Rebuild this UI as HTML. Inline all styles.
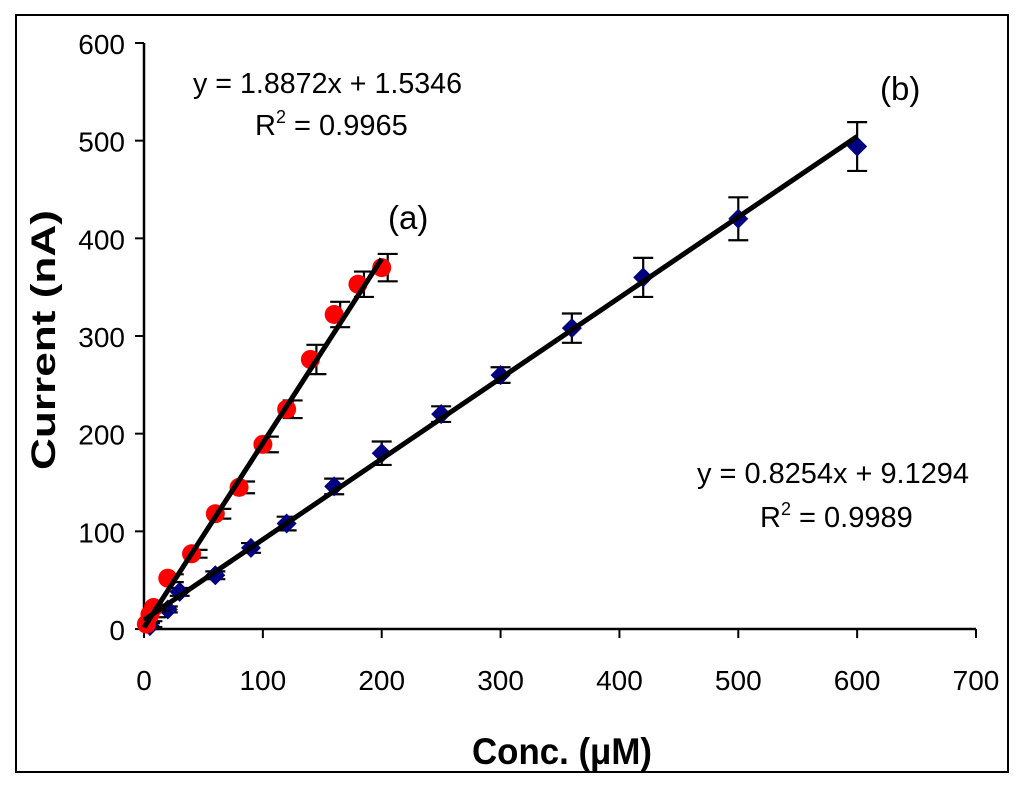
<!DOCTYPE html>
<html><head><meta charset="utf-8"><style>
html,body{margin:0;padding:0;background:#fff;}
svg{display:block;font-family:"Liberation Sans",Arial,sans-serif;}
</style></head><body>
<svg id="chart" width="1024" height="788" viewBox="0 0 1024 788">
<rect x="16" y="15" width="992" height="757" fill="#fff" stroke="#000" stroke-width="2"/>
<g id="axes"></g>
<g id="series"></g>
<text x="193" y="93" font-size="29" textLength="269" lengthAdjust="spacingAndGlyphs">y = 1.8872x + 1.5346</text>
<text x="255" y="135" font-size="29">R<tspan dy="-12" font-size="18">2</tspan><tspan dy="12"> = 0.9965</tspan></text>
<text x="388" y="229" font-size="33">(a)</text>
<text x="880" y="100" font-size="33">(b)</text>
<text x="697" y="483" font-size="29" textLength="272" lengthAdjust="spacingAndGlyphs">y = 0.8254x + 9.1294</text>
<text x="760" y="527" font-size="29">R<tspan dy="-12" font-size="18">2</tspan><tspan dy="12"> = 0.9989</tspan></text>
<text x="472" y="764" font-size="37" font-weight="bold" textLength="180" lengthAdjust="spacingAndGlyphs">Conc. (μM)</text>
<text transform="translate(55,470) rotate(-90)" font-size="34" font-weight="bold" textLength="260" lengthAdjust="spacingAndGlyphs">Current (nA)</text>
</svg>
<script>
const xTicks=[0,100,200,300,400,500,600,700];
const yTicks=[0,100,200,300,400,500,600];
const aX=[2,5,8,20,40,60,80,100,120,140,160,180,200];
const aY=[5,15,22,52,77,118,145,189,225,276,322,353,370];
const aErr=[3,3,3,4,4,5,6,8,9,15,13,13,14];
const bX=[5,20,30,60,90,120,160,200,250,300,360,420,500,600];
const bY=[3,20,38,55,83,108,146,180,220,260,308,360,420,494];
const bErr=[3,3,4,4,5,7,8,12,8,8,15,20,22,25];
const fitA=[1.8872,1.5346,200];
const fitB=[0.8254,9.1294,600];
const NS="http://www.w3.org/2000/svg";
const sx=v=>144+v*(832/700);
const sy=v=>629-v*(586/600);
function mk(tag,attrs,parent){const e=document.createElementNS(NS,tag);for(const k in attrs)e.setAttribute(k,attrs[k]);parent.appendChild(e);return e;}
const ax=document.getElementById('axes'),se=document.getElementById('series');
let e=mk('line',{x1:sx(0),y1:sy(600),x2:sx(0),y2:sy(0)+1,stroke:'#000','stroke-width':2.5},ax);


e=mk('line',{x1:sx(0)-1,y1:sy(0),x2:sx(700),y2:sy(0),stroke:'#000','stroke-width':2.5},ax);


xTicks.forEach(t=>{
 let l=mk('line',{x1:sx(t),y1:sy(0),x2:sx(t),y2:sy(0)+9,stroke:'#000','stroke-width':2},ax);
 
 
 let tx=mk('text',{x:sx(t),y:sy(0)+61,'font-size':28,'text-anchor':'middle'},ax);tx.textContent=t;
 
 
});
yTicks.forEach(t=>{
 let l=mk('line',{x1:sx(0)-9,y1:sy(t),x2:sx(0),y2:sy(t),stroke:'#000','stroke-width':2},ax);
 
 
 let tx=mk('text',{x:sx(0)-19,y:sy(t)+11,'font-size':28,'text-anchor':'end'},ax);tx.textContent=t;
 
 
});
function errbar(x,y,er,off){
 const g=mk('g',{stroke:'#000','stroke-width':2.2},se);
 
 
 const cx=sx(x)+off;
 mk('line',{x1:cx,y1:sy(y+er),x2:cx,y2:sy(y-er)},g);
 mk('line',{x1:cx-10,y1:sy(y+er),x2:cx+10,y2:sy(y+er)},g);
 mk('line',{x1:cx-10,y1:sy(y-er),x2:cx+10,y2:sy(y-er)},g);
}
bX.forEach((x,i)=>{
 errbar(x,bY[i],bErr[i],0);
 const cx=sx(x),cy=sy(bY[i]);
 const p=mk('polygon',{points:`${cx},${cy-10} ${cx+10},${cy} ${cx},${cy+10} ${cx-10},${cy}`,fill:'#000080'},se);
 
 
});
aX.forEach((x,i)=>{
 errbar(x,aY[i],aErr[i],6);
 const c=mk('circle',{cx:sx(x),cy:sy(aY[i]),r:9.5,fill:'#ff0000'},se);
 
 
});
[[fitA,'fit-line-a'],[fitB,'fit-line-b']].forEach(([f,n])=>{
 const l=mk('line',{x1:sx(0),y1:sy(f[1]),x2:sx(f[2]),y2:sy(f[0]*f[2]+f[1]),stroke:'#000','stroke-width':5},se);
 
 
});
</script>
</body></html>
